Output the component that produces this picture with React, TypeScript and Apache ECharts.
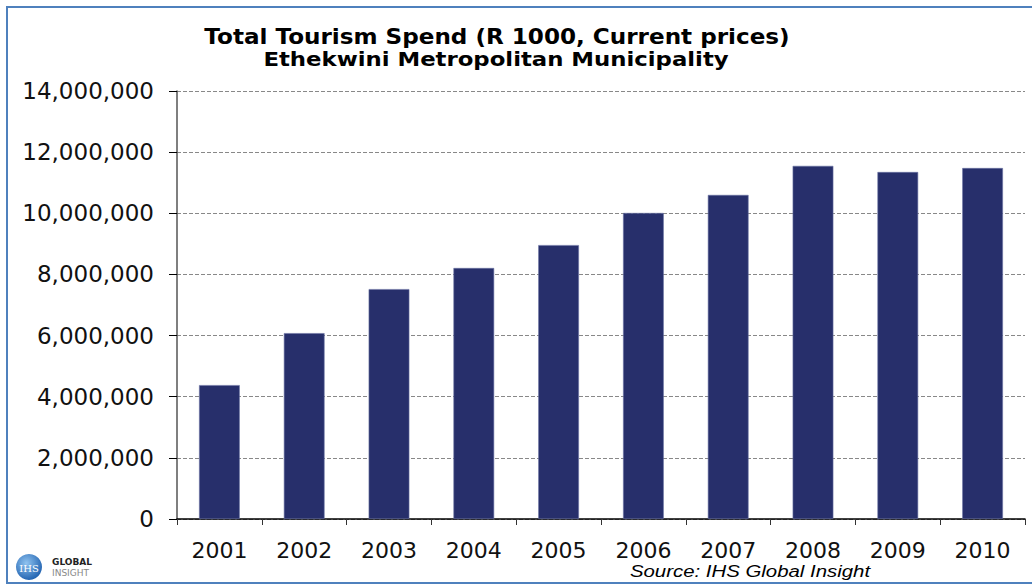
import React, { useEffect, useRef } from "react";
import * as echarts from "echarts";

const years = ["2001", "2002", "2003", "2004", "2005", "2006", "2007", "2008", "2009", "2010"];
const spend = [4380000, 6080000, 7520000, 8210000, 8960000, 10010000, 10600000, 11550000, 11350000, 11480000];
const titleLine1 = "Total Tourism Spend (R 1000, Current prices)";
const titleLine2 = "Ethekwini Metropolitan Municipality";
const sourceText = "Source: IHS Global Insight";

function fmt(v: number): string {
  return v.toString().replace(/\B(?=(\d{3})+(?!\d))/g, ",");
}

export default function App() {
  const ref = useRef<HTMLDivElement>(null);
  useEffect(() => {
    if (!ref.current) return;
    const chart = echarts.init(ref.current, null, { renderer: "svg" });
    chart.setOption({
      animation: false,
      backgroundColor: "#ffffff",
      grid: { left: 177, right: 7, top: 91, bottom: 66, containLabel: false },
      xAxis: {
        type: "category",
        data: years,
        axisLine: { lineStyle: { color: "#000", width: 1.5 } },
        axisTick: { show: true, length: 6, lineStyle: { color: "#333" } },
        axisLabel: { fontFamily: "DejaVu Sans, Verdana", fontSize: 22, color: "#111", margin: 20 },
      },
      yAxis: {
        type: "value",
        min: 0,
        max: 14000000,
        interval: 2000000,
        axisLine: { show: true, lineStyle: { color: "#555", width: 1.5 } },
        axisTick: { show: true, inside: false, length: 8, lineStyle: { color: "#000" } },
        axisLabel: {
          fontFamily: "DejaVu Sans, Verdana",
          fontSize: 23,
          color: "#111",
          margin: 23,
          formatter: (v: number) => fmt(v),
        },
        splitLine: { lineStyle: { color: "#888", type: [4, 2], width: 1 } },
      },
      series: [
        {
          type: "bar",
          data: spend,
          barWidth: "48%",
          itemStyle: { color: "#272f6b", borderColor: "#6a72a3", borderWidth: 0.6 },
        },
      ],
      graphic: [
        {
          type: "rect",
          shape: { x: 7, y: 7, width: 1040, height: 576 },
          style: { fill: "none", stroke: "#4f81bd", lineWidth: 2 },
          silent: true,
        },
        {
          type: "text",
          x: 497,
          y: 37,
          scaleX: 1.1,
          style: {
            text: titleLine1,
            fontFamily: "DejaVu Sans, Verdana",
            fontWeight: "bold",
            fontSize: 21,
            fill: "#000",
            align: "center",
            verticalAlign: "middle",
          },
        },
        {
          type: "text",
          x: 496,
          y: 60,
          scaleX: 1.2,
          style: {
            text: titleLine2,
            fontFamily: "DejaVu Sans, Verdana",
            fontWeight: "bold",
            fontSize: 19,
            fill: "#000",
            align: "center",
            verticalAlign: "middle",
          },
        },
        {
          type: "text",
          x: 750,
          y: 571,
          scaleX: 1.2,
          style: {
            text: sourceText,
            fontFamily: "Liberation Sans, Arial",
            fontStyle: "italic",
            fontSize: 17,
            fill: "#000",
            align: "center",
            verticalAlign: "middle",
          },
        },
        {
          type: "circle",
          shape: { cx: 29, cy: 567, r: 13 },
          style: {
            fill: new echarts.graphic.RadialGradient(0.4, 0.35, 0.7, [
              { offset: 0, color: "#8fc3f0" },
              { offset: 1, color: "#1d5fae" },
            ]),
          },
        },
        {
          type: "text",
          x: 29,
          y: 568,
          style: { text: "IHS", fontFamily: "DejaVu Serif", fontSize: 10, fill: "#fff", align: "center", verticalAlign: "middle" },
        },
        {
          type: "text",
          x: 52,
          y: 562,
          style: { text: "GLOBAL", fontFamily: "DejaVu Sans", fontWeight: "bold", fontSize: 9, fill: "#222", verticalAlign: "middle" },
        },
        {
          type: "text",
          x: 52,
          y: 573,
          style: { text: "INSIGHT", fontFamily: "DejaVu Sans", fontSize: 9, fill: "#888", verticalAlign: "middle" },
        },
      ],
    });
    return () => chart.dispose();
  }, []);
  return <div ref={ref} style={{ position: "fixed", left: 0, top: 0, width: 1032, height: 585 }} />;
}
